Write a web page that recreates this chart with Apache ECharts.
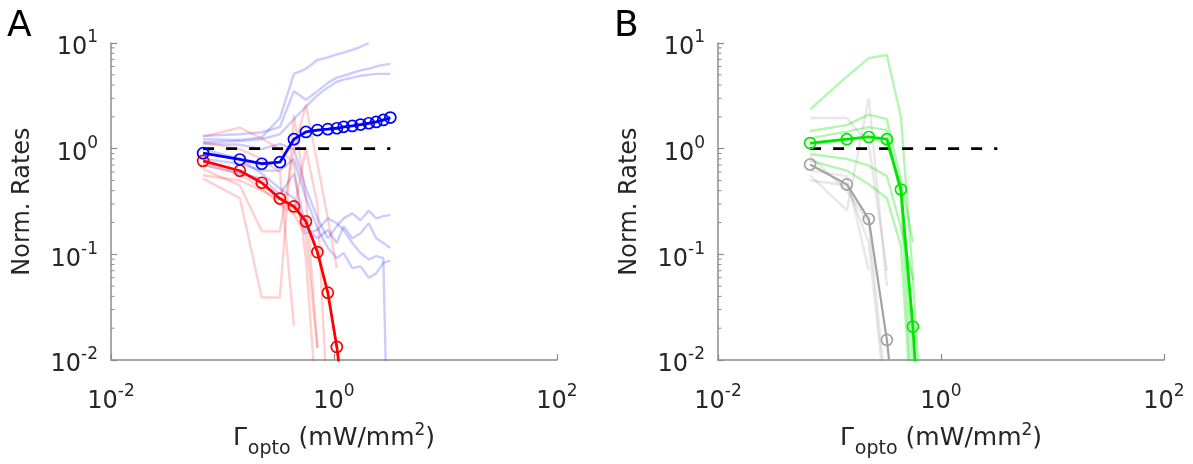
<!DOCTYPE html>
<html>
<head>
<meta charset="utf-8">
<script src="https://cdn.jsdelivr.net/npm/echarts/dist/echarts.min.js"></script>
<style>
  html, body { margin: 0; padding: 0; background: #ffffff; }
  #chart { width: 1193px; height: 464px; }
</style>
</head>
<body>
<div id="chart"></div>
<script>
// Light intensity levels (mW/mm^2) shared by both panels
const GAMMA = [0.067, 0.143, 0.225, 0.327, 0.437, 0.56, 0.71, 0.88, 1.06, 1.22, 1.46, 1.73, 2.05, 2.39, 2.77, 3.2];

// Panel A: population means
const RED_MEAN  = [0.766, 0.618, 0.476, 0.337, 0.284, 0.205, 0.105, 0.0434, 0.0133, 0.004];
const BLUE_MEAN = [0.906, 0.79, 0.72, 0.745, 1.23, 1.44, 1.50, 1.53, 1.56, 1.61, 1.64, 1.69, 1.74, 1.79, 1.87, 1.97];

// Panel A: individual networks
const BLUE_RUNS = [
  [1.23, 1.21, 1.28, 1.95, 5.1, 5.7, 6.9, 7.3, 7.8, 8.1, 8.6, 9.2, 10.0],
  [1.32, 1.37, 1.43, 1.6, 3.5, 2.9, 3.5, 4.2, 4.7, 4.9, 5.2, 5.5, 5.7, 6.0, 6.2, 6.35],
  [1.15, 1.18, 1.23, 1.37, 1.9, 2.5, 3.2, 3.8, 4.3, 4.5, 4.7, 4.9, 5.0, 5.1, 5.1, 5.1],
  [1.11, 1.09, 0.99, 1.11, 0.99, 0.42, 0.22, 0.142, 0.185, 0.219, 0.244, 0.21, 0.26, 0.219, 0.23, 0.235],
  [0.70, 0.58, 0.52, 0.37, 0.58, 0.177, 0.142, 0.17, 0.128, 0.185, 0.142, 0.158, 0.197, 0.142, 0.128, 0.115],
  [0.80, 0.72, 0.62, 0.62, 0.80, 0.34, 0.177, 0.115, 0.092, 0.103, 0.074, 0.077, 0.06, 0.066, 0.083, 0.087],
  [0.99, 0.80, 0.58, 0.42, 0.34, 0.158, 0.17, 0.219, 0.197, 0.17, 0.128, 0.103, 0.089, 0.096, 0.092, 0.0001]
];
const RED_RUNS = [
  [0.64, 0.45, 0.165, 0.165, 0.99, 2.6, 0.72, 0.22, 0.074],
  [0.52, 0.34, 0.039, 0.039, 2.1, 0.34, 0.013],
  [1.30, 1.58, 1.25, 0.99, 0.72, 0.09, 0.003],
  [1.15, 0.99, 0.80, 0.60, 0.021],
  [0.72, 0.58, 0.42, 0.30, 0.24, 0.15, 0.013],
  [0.56, 0.50, 0.40, 0.33, 0.26, 1.0, 0.3, 0.003]
];

// Panel B: population means
const GREEN_MEAN = [1.13, 1.23, 1.29, 1.23, 0.41, 0.0207, 0.0004];
const GRAY_MEAN  = [0.708, 0.459, 0.216, 0.0155, 0.0009];

// Panel B: individual networks
const GREEN_RUNS = [
  [2.35, 4.8, 7.2, 7.7, 2.0, 0.06, 0.001],
  [1.47, 1.67, 2.1, 1.9, 0.5, 0.13],
  [1.25, 1.45, 1.6, 1.5, 0.35, 0.003],
  [0.89, 0.80, 0.69, 0.55, 0.18, 0.057],
  [0.77, 0.62, 0.46, 0.34, 0.12, 0.002],
  [1.10, 1.20, 1.30, 1.10, 0.45, 0.01, 0.0005]
];
const GRAY_RUNS = [
  [1.95, 1.95, 1.1, 0.07],
  [0.56, 0.26, 3.0, 0.05],
  [0.50, 0.45, 0.13, 0.003],
  [0.62, 0.55, 0.07],
  [0.85, 0.40, 0.2, 0.004]
];

// Baseline (rate without stimulation)
const BASELINE_X = [0.067, 3.2];
const BASELINE_Y = [1, 1];

// Axis ranges and tick labels
const X_RANGE = [0.01, 100];
const Y_RANGE = [0.01, 10];
const PANEL_LABELS = ['A', 'B'];
const Y_NAME = 'Norm. Rates';
const X_NAME = '{m|\u0393}{sub|opto}{m| (mW/mm}{sup|2}{m|)}';

// minor log ticks 2..9 x 10^k on the y axis
const MINOR_Y = [];
[-2, -1, 0].forEach(k => { for (let m = 2; m <= 9; m++) MINOR_Y.push(+(m * Math.pow(10, k)).toPrecision(3)); });

const FONT = 'DejaVu Sans';
const TEXT = '#262626';
const AXIS = '#8c8c8c';
const YMIN = Y_RANGE[0];

function pairs(values) { return values.map((v, i) => [GAMMA[i], v]); }
function markerPairs(values) {
  return values.map((v, i) => v < YMIN ? { value: [GAMMA[i], v], symbol: 'none' } : [GAMMA[i], v]);
}

function tickLabel(v) {
  const e = Math.round(Math.log10(v));
  return '{b|10}{s|' + e + '}';
}
const tickRich = {
  b: { fontFamily: FONT, fontSize: 24, color: TEXT, padding: [10, 0, 0, 0] },
  s: { fontFamily: FONT, fontSize: 17, color: TEXT, padding: [0, 0, 10, 0] }
};

const grids = [
  { left: 111, top: 43, width: 446, height: 320 },
  { left: 718, top: 43, width: 446, height: 320 }
];

const xAxes = grids.map((g, i) => ({
  type: 'log', logBase: 10, gridIndex: i,
  min: X_RANGE[0], max: X_RANGE[1], interval: 2,
  axisLine: { show: true, onZero: false, lineStyle: { color: AXIS, width: 1.5 } },
  axisTick: { show: true, inside: true, length: 6, lineStyle: { color: AXIS, width: 1.2 } },
  splitLine: { show: false },
  axisLabel: { formatter: tickLabel, rich: tickRich, margin: 20 },
  name: X_NAME, nameLocation: 'middle', nameGap: 58,
  nameTextStyle: {
    fontFamily: FONT, fontSize: 25, color: TEXT,
    rich: {
      m: { fontFamily: FONT, fontSize: 25, color: TEXT },
      sub: { fontFamily: FONT, fontSize: 19, color: TEXT, padding: [22, 0, 0, 1] },
      sup: { fontFamily: FONT, fontSize: 17, color: TEXT, padding: [0, 0, 16, 0] }
    }
  }
}));

const yAxes = grids.map((g, i) => ({
  type: 'log', logBase: 10, gridIndex: i,
  min: Y_RANGE[0], max: Y_RANGE[1], interval: 1,
  axisLine: { show: true, lineStyle: { color: AXIS, width: 1.5 } },
  axisTick: { show: true, inside: true, length: 6, lineStyle: { color: AXIS, width: 1.2 } },
  splitLine: { show: false },
  axisLabel: { formatter: tickLabel, rich: tickRich, margin: 13 },
  name: Y_NAME, nameLocation: 'middle', nameGap: 76, nameRotate: 90,
  nameTextStyle: { fontFamily: FONT, fontSize: 24, color: TEXT }
}));

function faint(values, color, idx) {
  return {
    type: 'line', xAxisIndex: idx, yAxisIndex: idx, data: pairs(values),
    symbol: 'none', silent: true, clip: true, animation: false,
    lineStyle: { color: color, width: 2.4 }
  };
}
function mean(values, color, idx, width) {
  return {
    type: 'line', xAxisIndex: idx, yAxisIndex: idx, data: markerPairs(values),
    symbol: 'circle', symbolSize: 11, showSymbol: true, clip: true, animation: false, silent: true,
    lineStyle: { color: color, width: width },
    itemStyle: { color: 'rgba(0,0,0,0)', borderColor: color, borderWidth: 1.7 }
  };
}
function baseline(idx) {
  return {
    type: 'line', xAxisIndex: idx, yAxisIndex: idx,
    data: BASELINE_X.map((x, i) => [x, BASELINE_Y[i]]),
    symbol: 'none', silent: true, animation: false,
    lineStyle: { color: '#000000', width: 2.8, type: [11, 12] }
  };
}
function minorTicks(idx) {
  return {
    type: 'custom', xAxisIndex: idx, yAxisIndex: idx, silent: true, animation: false,
    data: MINOR_Y.map(v => [X_RANGE[0], v]),
    renderItem: (params, api) => {
      const p = api.coord([api.value(0), api.value(1)]);
      return { type: 'line', shape: { x1: p[0], y1: p[1], x2: p[0] + 3.5, y2: p[1] },
               style: { stroke: AXIS, lineWidth: 1 } };
    }
  };
}

const series = [];
BLUE_RUNS.forEach(r => series.push(faint(r, 'rgba(40,40,255,0.24)', 0)));
RED_RUNS.forEach(r => series.push(faint(r, 'rgba(255,40,40,0.22)', 0)));
series.push(baseline(0));
series.push(mean(RED_MEAN, '#ff0000', 0, 2.8));
series.push(mean(BLUE_MEAN, '#0000ff', 0, 2.8));
series.push(minorTicks(0));

GREEN_RUNS.forEach(r => series.push(faint(r, 'rgba(0,225,0,0.3)', 1)));
GRAY_RUNS.forEach(r => series.push(faint(r, 'rgba(150,150,150,0.22)', 1)));
series.push(baseline(1));
series.push(mean(GRAY_MEAN, '#a3a3a3', 1, 2.2));
series.push(mean(GREEN_MEAN, '#00e600', 1, 2.8));
series.push(minorTicks(1));

const chart = echarts.init(document.getElementById('chart'), null, { renderer: 'canvas' });
chart.setOption({
  backgroundColor: '#ffffff',
  animation: false,
  grid: grids,
  xAxis: xAxes,
  yAxis: yAxes,
  graphic: PANEL_LABELS.map((t, i) => ({
    type: 'text', left: 7 + i * 607, top: 9,
    style: { text: t, font: '36px "' + FONT + '"', fill: '#000000' }
  })),
  series: series
});
</script>
</body>
</html>
